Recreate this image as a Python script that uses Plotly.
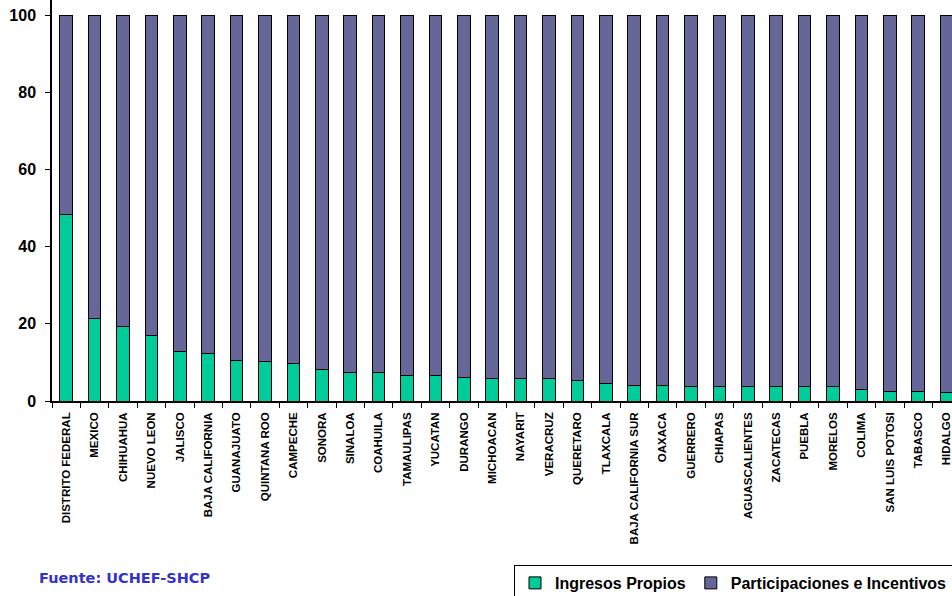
import plotly.graph_objects as go

estados = [
    "DISTRITO FEDERAL", "MEXICO", "CHIHUAHUA", "NUEVO LEON", "JALISCO",
    "BAJA CALIFORNIA", "GUANAJUATO", "QUINTANA ROO", "CAMPECHE", "SONORA",
    "SINALOA", "COAHUILA", "TAMAULIPAS", "YUCATAN", "DURANGO", "MICHOACAN",
    "NAYARIT", "VERACRUZ", "QUERETARO", "TLAXCALA", "BAJA CALIFORNIA SUR",
    "OAXACA", "GUERRERO", "CHIAPAS", "AGUASCALIENTES", "ZACATECAS", "PUEBLA",
    "MORELOS", "COLIMA", "SAN LUIS POTOSI", "TABASCO", "HIDALGO",
]

ingresos_propios = [
    48.5, 21.4, 19.4, 17.0, 12.9, 12.4, 10.4, 10.3, 9.6, 8.3,
    7.4, 7.4, 6.7, 6.7, 6.2, 5.8, 5.8, 5.8, 5.4, 4.6, 4.1,
    4.1, 3.7, 3.7, 3.7, 3.7, 3.7, 3.7, 2.9, 2.5, 2.5, 2.1,
]

participaciones = [
    51.5, 78.6, 80.6, 83.0, 87.1, 87.6, 89.6, 89.7, 90.4, 91.7,
    92.6, 92.6, 93.3, 93.3, 93.8, 94.2, 94.2, 94.2, 94.6, 95.4, 95.9,
    95.9, 96.3, 96.3, 96.3, 96.3, 96.3, 96.3, 97.1, 97.5, 97.5, 97.9,
]

y_ticks = [0, 20, 40, 60, 80, 100]

VERDE = "#00CC99"
MORADO = "#666699"
FONT = "Arial, Liberation Sans, sans-serif"

fig = go.Figure()
fig.add_trace(go.Bar(
    x=estados, y=ingresos_propios, name="Ingresos Propios",
    marker=dict(color=VERDE, line=dict(color="black", width=1)),
    width=0.44,
))
fig.add_trace(go.Bar(
    x=estados, y=participaciones, name="Participaciones e Incentivos",
    marker=dict(color=MORADO, line=dict(color="black", width=1)),
    width=0.44,
))

fig.update_layout(
    barmode="stack",
    width=952, height=596,
    margin=dict(l=52, r=0, t=0, b=195, autoexpand=False),
    paper_bgcolor="white", plot_bgcolor="white",
    font=dict(family=FONT, color="black"),
    showlegend=True,
    legend=dict(
        orientation="h",
        traceorder="normal",
        x=(514 - 52) / 900, y=(401 - 565) / 401,
        xanchor="left", yanchor="top",
        bordercolor="black", borderwidth=1,
        font=dict(family=FONT, size=16, color="black", weight="bold"),
        bgcolor="white",
        itemwidth=30,
    ),
    xaxis=dict(
        type="category",
        range=[-0.5, 31.19],
        showline=True, linecolor="black", linewidth=1.5,
        ticks="outside", ticklen=5, tickcolor="black", tickwidth=1.2,
        tickson="boundaries",
        tickangle=-90,
        tickfont=dict(family=FONT, size=11.5, color="black", weight="bold"),
        ticklabelstandoff=5,
        showgrid=False, zeroline=False,
        fixedrange=True,
    ),
    yaxis=dict(
        range=[0, 104],
        tickvals=y_ticks,
        showline=True, linecolor="black", linewidth=1.5,
        ticks="outside", ticklen=5, tickcolor="black", tickwidth=1.2,
        tickfont=dict(family=FONT, size=16, color="black", weight="bold"),
        ticklabelstandoff=6,
        showgrid=False, zeroline=False,
        fixedrange=True,
    ),
    annotations=[dict(
        text="Fuente: UCHEF-SHCP",
        xref="paper", yref="paper",
        x=(37 - 52) / 900, y=(401 - 578) / 401,
        xanchor="left", yanchor="middle",
        showarrow=False,
        font=dict(family="DejaVu Sans, Verdana, sans-serif", size=14.5,
                  color="#3333CC", weight="bold"),
    )],
)

fig.write_html("out.html")
